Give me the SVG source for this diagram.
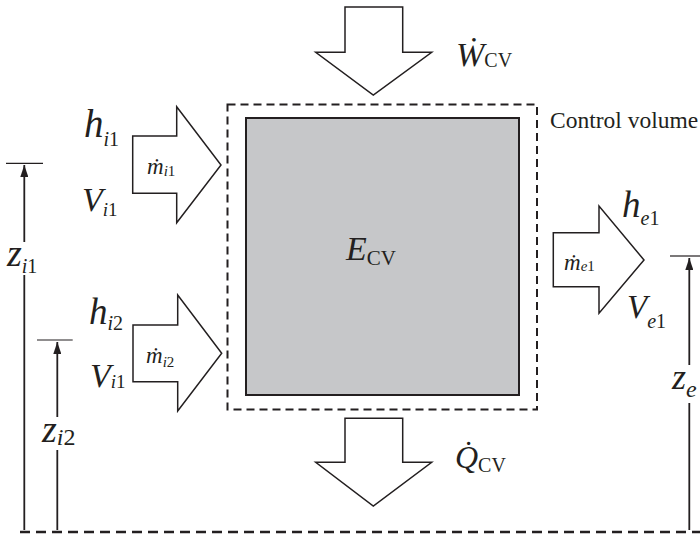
<svg xmlns="http://www.w3.org/2000/svg" width="700" height="535" viewBox="0 0 700 535" font-family="'Liberation Serif', 'Times New Roman', serif">
<style>
.ln{stroke:#231f20;fill:none}
.arr{fill:#fff;stroke:#231f20;stroke-width:1.5;stroke-linejoin:miter}
text{font-family:'Liberation Serif','Times New Roman',serif;fill:#231f20}
.it{font-style:italic}
</style>
<defs>
<marker id="ah" viewBox="0 0 12 8" refX="12" refY="4" markerWidth="12" markerHeight="8" markerUnits="userSpaceOnUse" orient="auto">
<path d="M0,0 L12,4 L0,8 Z" fill="#231f20"/>
</marker>
</defs>

<g id="control-volume">
<rect x="246" y="118" width="273" height="277" fill="#c6c7c9" stroke="#231f20" stroke-width="2"/>
<rect x="227.5" y="104.5" width="309.5" height="305" class="ln" stroke-width="2" stroke-dasharray="8,5"/>
<text class="it" x="346" y="260" font-size="34">E<tspan font-style="normal" font-size="21" dy="5">CV</tspan></text>
<text x="550" y="128" font-size="23.5">Control volume</text>
</g>

<g id="work-in">
<polygon class="arr" points="345,7 402.7,7 402.7,52.3 431.7,52.3 373.3,95 315.7,52.3 345,52.3"/>
<text class="it" x="456" y="66" font-size="34">Ẇ<tspan font-style="normal" font-size="20" dy="1">CV</tspan></text>
</g>

<g id="heat-out">
<polygon class="arr" points="345,418.3 402.7,418.3 402.7,462.3 431.7,462.3 373.3,506 315.7,462.3 345,462.3"/>
<text class="it" x="455" y="468" font-size="32">Q̇<tspan font-style="normal" font-size="20" dy="4">CV</tspan></text>
</g>

<g id="inlet-1">
<polygon class="arr" points="132.7,136 176.7,136 176.7,106.7 221,165 176.7,222.7 176.7,193.3 132.7,193.3"/>
<text class="it" x="147" y="174" font-size="23">ṁ<tspan font-size="15" dy="2">i</tspan><tspan font-style="normal" font-size="15">1</tspan></text>
<text class="it" x="84" y="137" font-size="39">h<tspan font-size="20" dy="9">i</tspan><tspan font-style="normal" font-size="20">1</tspan></text>
<text class="it" x="82" y="211" font-size="34">V<tspan font-size="19" dy="5">i</tspan><tspan font-style="normal" font-size="19">1</tspan></text>
</g>

<g id="inlet-2">
<polygon class="arr" points="133,325 177.7,325 177.7,295 221.7,353.3 177.7,411 177.7,381.7 133,381.7"/>
<text class="it" x="146" y="363" font-size="23">ṁ<tspan font-size="15" dy="4">i</tspan><tspan font-style="normal" font-size="15">2</tspan></text>
<text class="it" x="89" y="324" font-size="37">h<tspan font-size="20" dy="6">i</tspan><tspan font-style="normal" font-size="20">2</tspan></text>
<text class="it" x="90" y="387" font-size="34">V<tspan font-size="19" dy="1">i</tspan><tspan font-style="normal" font-size="19">1</tspan></text>
</g>

<g id="exit-1">
<polygon class="arr" points="553.3,232.7 599,232.7 599,206 644,260 599,313.3 599,286.7 553.3,286.7"/>
<text class="it" x="564" y="270" font-size="23">ṁ<tspan font-size="15" dy="1">e</tspan><tspan font-style="normal" font-size="15">1</tspan></text>
<text class="it" x="622" y="217" font-size="37">h<tspan font-size="20" dy="8">e</tspan><tspan font-style="normal" font-size="20">1</tspan></text>
<text class="it" x="627" y="318" font-size="33">V<tspan font-size="20" dy="10">e</tspan><tspan font-style="normal" font-size="20">1</tspan></text>
</g>

<g id="heights">
<line class="ln" x1="20" y1="532" x2="700" y2="532" stroke-width="2.5" stroke-dasharray="10,6"/>
<line class="ln" x1="6" y1="163.3" x2="43" y2="163.3" stroke-width="1.2"/>
<line class="ln" x1="24.3" y1="242" x2="24.3" y2="165" stroke-width="1.8" marker-end="url(#ah)"/>
<line class="ln" x1="24.3" y1="275" x2="24.3" y2="530" stroke-width="1.8"/>
<text class="it" x="7" y="266" font-size="38">z<tspan font-size="20" dy="7">i</tspan><tspan font-style="normal" font-size="20">1</tspan></text>

<line class="ln" x1="37" y1="340" x2="72.7" y2="340" stroke-width="1.2"/>
<line class="ln" x1="57.3" y1="417" x2="57.3" y2="342" stroke-width="1.8" marker-end="url(#ah)"/>
<line class="ln" x1="57.3" y1="450" x2="57.3" y2="530" stroke-width="1.8"/>
<text class="it" x="42" y="442" font-size="38">z<tspan font-size="24" dy="3">i</tspan><tspan font-style="normal" font-size="24">2</tspan></text>

<line class="ln" x1="670" y1="256" x2="700" y2="256" stroke-width="1.2"/>
<line class="ln" x1="689.3" y1="365" x2="689.3" y2="258" stroke-width="1.8" marker-end="url(#ah)"/>
<line class="ln" x1="689.3" y1="403" x2="689.3" y2="530" stroke-width="1.8"/>
<text class="it" x="672" y="389" font-size="36">z<tspan font-size="24" dy="8">e</tspan></text>
</g>
</svg>
